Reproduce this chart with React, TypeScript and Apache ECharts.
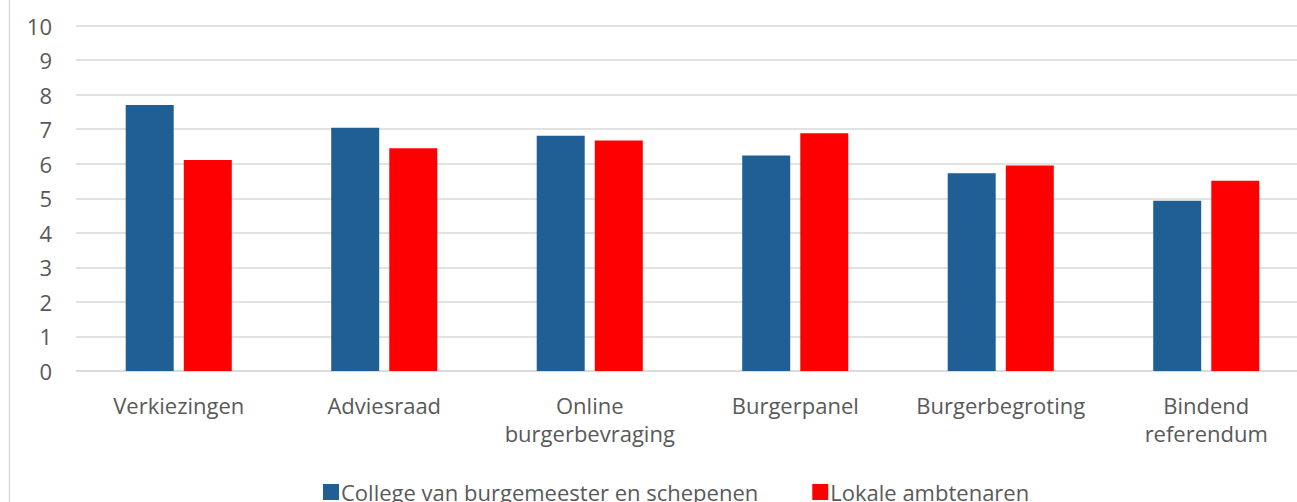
import React, { useEffect, useRef } from "react";
import * as echarts from "echarts";

const categories = [
  "Verkiezingen",
  "Adviesraad",
  "Online\nburgerbevraging",
  "Burgerpanel",
  "Burgerbegroting",
  "Bindend\nreferendum",
];
const seriesNames = ["College van burgemeester en schepenen", "Lokale ambtenaren"];
const collegeValues = [7.7, 7.04, 6.81, 6.24, 5.72, 4.93];
const ambtenarenValues = [6.11, 6.45, 6.67, 6.88, 5.95, 5.51];
const yTicks = [0, 10, 1];

const FONT = "Open Sans";
const TEXT = "#595959";

export default function App() {
  const ref = useRef<HTMLDivElement>(null);
  useEffect(() => {
    if (!ref.current) return;
    const chart = echarts.init(ref.current, undefined, { renderer: "svg" });
    chart.setOption({
      animation: false,
      textStyle: { fontFamily: FONT },
      grid: {
        left: 76,
        width: 1233,
        top: 25.5,
        bottom: 131,
        containLabel: false,
        outerBoundsMode: "none",
      },
      legend: {
        left: 323,
        top: 477,
        padding: 0,
        itemWidth: 16,
        itemHeight: 16,
        itemGap: 54,
        icon: "rect",
        textStyle: {
          fontFamily: FONT,
          fontSize: 22,
          lineHeight: 30,
          color: TEXT,
          padding: [0, 0, 0, -3],
        },
        data: seriesNames,
      },
      graphic: [
        {
          type: "line",
          shape: { x1: 9.5, y1: 0, x2: 9.5, y2: 502 },
          style: { stroke: "#d9d9d9", lineWidth: 1.5 },
        },
      ],
      xAxis: {
        type: "category",
        data: categories,
        axisLine: { show: true, lineStyle: { color: "#d9d9d9", width: 1.5 } },
        axisTick: { show: false },
        axisLabel: {
          fontFamily: FONT,
          fontSize: 22,
          color: TEXT,
          lineHeight: 28,
          margin: 20,
          interval: 0,
        },
      },
      yAxis: {
        type: "value",
        min: yTicks[0],
        max: yTicks[1],
        interval: yTicks[2],
        axisLine: { show: false },
        axisTick: { show: false },
        splitLine: { lineStyle: { color: "#d9d9d9", width: 1.5 } },
        axisLabel: { fontFamily: FONT, fontSize: 22, color: TEXT, margin: 24 },
      },
      series: [
        {
          name: seriesNames[0],
          type: "bar",
          data: collegeValues,
          barWidth: 48,
          barGap: "21%",
          itemStyle: { color: "#1F5F94" },
        },
        {
          name: seriesNames[1],
          type: "bar",
          data: ambtenarenValues,
          barWidth: 48,
          barGap: "21%",
          itemStyle: { color: "#FF0000" },
        },
      ],
    });
    return () => chart.dispose();
  }, []);
  return <div ref={ref} style={{ width: 1297, height: 502, position: "absolute", left: 0, top: 0 }} />;
}
